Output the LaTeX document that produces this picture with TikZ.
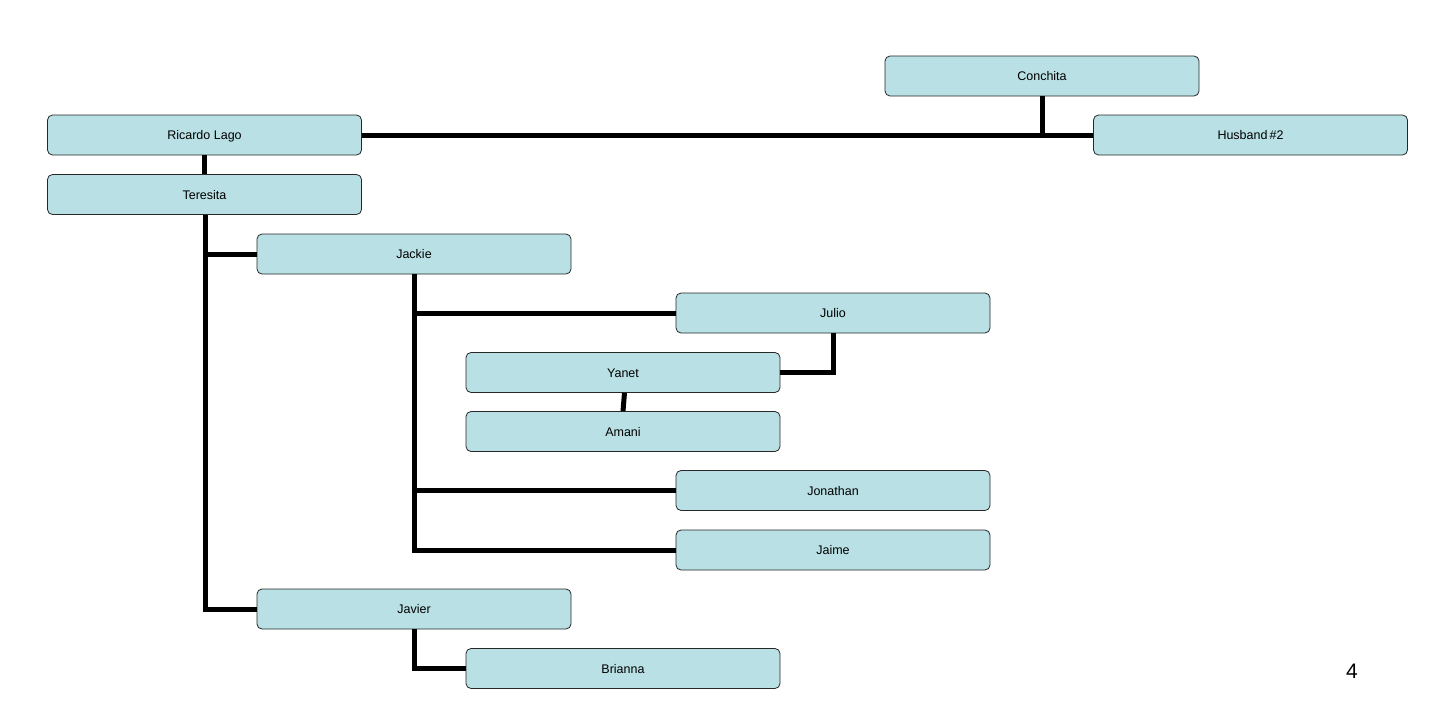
\documentclass[tikz,border=0pt]{standalone}
\usepackage{fontspec}
\setmainfont{Liberation Sans}
\definecolor{boxfill}{RGB}{185,224,228}
\definecolor{boxline}{RGB}{40,40,40}
\begin{document}
\begin{tikzpicture}[x=1pt,y=-1pt,
  person/.style={draw=boxline,line width=0.8pt,fill=boxfill,rounded corners=5pt,
    minimum width=314pt,minimum height=40pt,inner sep=0pt,
    text height=9pt,text depth=0pt,
    font=\fontsize{12.5}{14}\selectfont},
  link/.style={line width=5pt,draw=black}]
\useasboundingbox[fill=white] (0,0) rectangle (1440,720);
\node[person] (conchita) at (1042,76) {Conchita};
\node[person] (ricardo) at (204.5,135) {Ricardo Lago};
\node[person] (husband) at (1250.5,135) {Husband\,\#2};
\node[person] (teresita) at (204.5,194.5) {Teresita};
\node[person] (jackie) at (414,254) {Jackie};
\node[person] (julio) at (833,313) {Julio};
\node[person] (yanet) at (623,372.5) {Yanet};
\node[person] (amani) at (623,431.5) {Amani};
\node[person] (jonathan) at (833,490.5) {Jonathan};
\node[person] (jaime) at (833,550) {Jaime};
\node[person] (javier) at (414,609) {Javier};
\node[person] (brianna) at (623,668.5) {Brianna};
\node[font=\fontsize{21}{24}\selectfont] (pagenum) at (1352,671) {4};

\coordinate (cj) at (1042,135);
\draw[link] (ricardo.east) -- (husband.west);
\draw[link] (conchita.south) -- (cj);
\draw[link] (ricardo.south) -- (teresita.north);
\draw[link] ([xshift=0.5pt]teresita.south) |- (jackie.west);
\draw[link] ([xshift=0.5pt]teresita.south) |- (javier.west);
\draw[link] (jackie.south) |- (julio.west);
\draw[link] (jackie.south) |- (jonathan.west);
\draw[link] (jackie.south) |- (jaime.west);
\draw[link] (julio.south) |- (yanet.east);
\draw[link] ([xshift=1.5pt]yanet.south) -- (amani.north);
\draw[link] (javier.south) |- (brianna.west);
\end{tikzpicture}
\end{document}
